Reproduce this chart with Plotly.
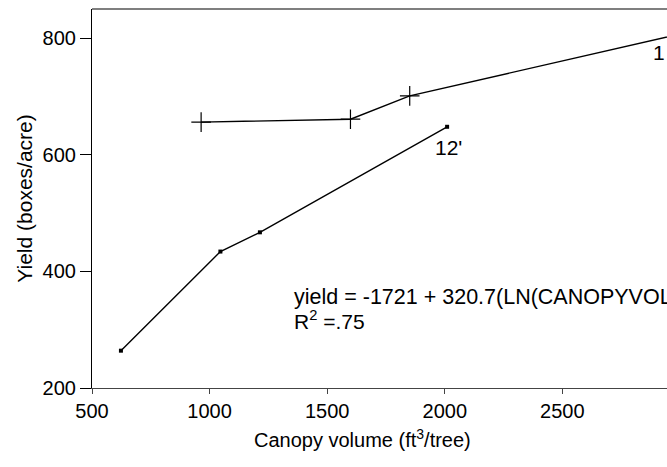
import plotly.graph_objects as go

# Canopy volume vs. yield for two tree spacings
vol_wide = [964, 1599, 1851, 3000]
yield_wide = [656, 661, 701, 807]

vol_12 = [623, 1046, 1214, 2010]
yield_12 = [264, 434, 467, 648]

x_ticks = [500, 1000, 1500, 2000, 2500]
y_ticks = [200, 400, 600, 800]

FONT = "Liberation Sans, Arial, Helvetica, sans-serif"

fig = go.Figure()

fig.add_trace(go.Scatter(
    x=vol_wide, y=yield_wide, mode="lines+markers",
    line=dict(color="black", width=1.4),
    marker=dict(symbol="cross-thin-open", size=14, line=dict(color="black", width=1.2)),
    showlegend=False,
))

fig.add_trace(go.Scatter(
    x=vol_12, y=yield_12, mode="lines+markers",
    line=dict(color="black", width=1.4),
    marker=dict(symbol="square", size=4, color="black"),
    showlegend=False,
))

# frame line across the top of the plot
fig.add_shape(type="line", xref="paper", yref="paper", x0=0, x1=1, y0=1, y1=1,
              line=dict(color="black", width=1.2))

fig.add_annotation(x=2015, y=612, text="12'", showarrow=False,
                   font=dict(size=21, color="black", family=FONT))
fig.add_annotation(x=2909, y=776, text="1", showarrow=False,
                   font=dict(size=21, color="black", family=FONT))

fig.add_annotation(x=1350, y=356, text="yield = -1721 + 320.7(LN(CANOPYVOL))",
                   showarrow=False, xanchor="left", yanchor="middle",
                   font=dict(size=21.5, color="black", family=FONT))
fig.add_annotation(x=1350, y=317, text="R<sup>2</sup> =.75",
                   showarrow=False, xanchor="left", yanchor="middle",
                   font=dict(size=21, color="black", family=FONT))

fig.add_annotation(xref="paper", yref="paper", x=(362 - 92) / (667 - 92), y=0,
                   yshift=-50, yanchor="middle",
                   text="Canopy volume (ft<sup>3</sup>/tree)", showarrow=False,
                   font=dict(size=20, color="black", family=FONT))

fig.update_layout(
    width=667, height=467,
    margin=dict(l=92, r=0, t=9, b=79),
    paper_bgcolor="white", plot_bgcolor="white",
    font=dict(family=FONT, size=20, color="black"),
    xaxis=dict(range=[500, 2945], tickvals=x_ticks, ticktext=[str(v) for v in x_ticks],
               showgrid=False, zeroline=False, showline=True, linecolor="#444", linewidth=1,
               ticks="outside", ticklen=5, tickcolor="#444", tickfont=dict(size=20)),
    yaxis=dict(range=[200, 850], tickvals=y_ticks, ticktext=[str(v) for v in y_ticks],
               showgrid=False, zeroline=False, showline=True, linecolor="black", linewidth=1.2,
               ticks="outside", ticklen=11, tickcolor="black", tickfont=dict(size=20),
               title=dict(text="Yield (boxes/acre)", standoff=4, font=dict(size=21))),
)

fig.write_html("out.html")
